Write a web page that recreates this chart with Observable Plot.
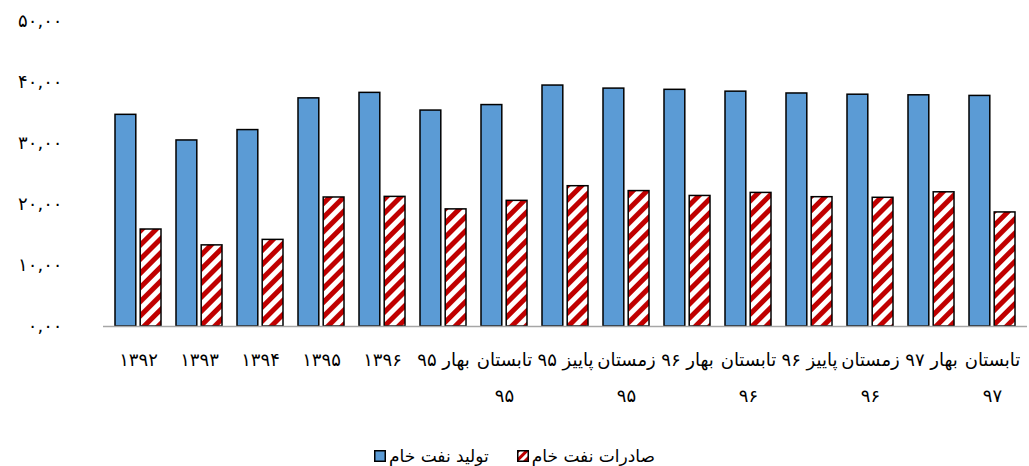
<!DOCTYPE html>
<html>
<head>
<meta charset="utf-8">
<script src="https://cdn.jsdelivr.net/npm/d3@7"></script>
<script src="https://cdn.jsdelivr.net/npm/@observablehq/plot@0.6"></script>
<style>
  html, body { margin: 0; padding: 0; background: #fff; }
  body { width: 1029px; height: 466px; overflow: hidden; font-family: "DejaVu Sans", sans-serif; }
  #legend { display: flex; justify-content: center; align-items: center; height: 22px; margin-top: 15px; font-size: 17px; color: #000; }
  .item { display: flex; align-items: center; }
  .item span { direction: rtl; }
  .sw { width: 12px; height: 12px; margin-right: 3px; }
</style>
</head>
<body>
<div id="chart"></div>
<div id="legend"></div>
<script>
// Categories (x axis)
const categories = ["۱۳۹۲","۱۳۹۳","۱۳۹۴","۱۳۹۵","۱۳۹۶","بهار ۹۵","تابستان ۹۵","پاییز ۹۵","زمستان ۹۵","بهار ۹۶","تابستان ۹۶","پاییز ۹۶","زمستان ۹۶","بهار ۹۷","تابستان ۹۷"];
// Category tick labels as displayed (wrapped)
const categoryLabels = ["۱۳۹۲","۱۳۹۳","۱۳۹۴","۱۳۹۵","۱۳۹۶","بهار ۹۵","تابستان\n۹۵","پاییز ۹۵","زمستان\n۹۵","بهار ۹۶","تابستان\n۹۶","پاییز ۹۶","زمستان\n۹۶","بهار ۹۷","تابستان\n۹۷"];
// Series
const seriesNames = ["تولید نفت خام", "صادرات نفت خام"];
const production = [34.7, 30.5, 32.2, 37.4, 38.3, 35.4, 36.3, 39.5, 39.0, 38.8, 38.5, 38.2, 38.0, 37.9, 37.8];
const exportsData = [15.9, 13.3, 14.2, 21.15, 21.25, 19.2, 20.6, 23.0, 22.2, 21.4, 21.9, 21.2, 21.1, 22.0, 18.7];
// Y ticks
const yTicks = [0, 10, 20, 30, 40, 50];
const yTickLabels = ["۰,۰۰","۱۰,۰۰","۲۰,۰۰","۳۰,۰۰","۴۰,۰۰","۵۰,۰۰"];

const rows = categories.map((c, i) => ({cat: c, production: production[i], exports: exportsData[i]}));

const chart = Plot.plot({
  width: 1029,
  height: 430,
  marginLeft: 103,
  marginRight: 2,
  marginTop: 21,
  marginBottom: 104,
  style: {fontFamily: "DejaVu Sans, sans-serif", fontSize: "16px", background: "white", color: "#000"},
  x: {domain: categories, paddingInner: 0.25, paddingOuter: 0.125, label: null},
  y: {domain: [0, 50], label: null},
  marks: [
    Plot.barY(rows, {x: "cat", y: "production", fill: "#5b9bd5", stroke: "#000", strokeWidth: 1.5, insetRight: 25.2}),
    Plot.barY(rows, {x: "cat", y: "exports", fill: "url(#hatch)", stroke: "#000", strokeWidth: 1.5, insetLeft: 25.2}),
    Plot.ruleY([0], {stroke: "#a6a6a6", strokeWidth: 1.5}),
    Plot.axisX({tickSize: 0, tickPadding: 15, lineHeight: 1.95, fontSize: 18,
      tickFormat: d => categoryLabels[categories.indexOf(d)]}),
    Plot.axisY({ticks: yTicks, tickSize: 0, tickPadding: 41, fontSize: 18,
      tickFormat: d => yTickLabels[yTicks.indexOf(d)]})
  ]
});

function addHatch(svgSel, id, size) {
  const defs = svgSel.insert("defs", ":first-child");
  const p = defs.append("pattern").attr("id", id).attr("patternUnits", "userSpaceOnUse")
    .attr("width", size).attr("height", size).attr("patternTransform", "rotate(45)");
  p.append("rect").attr("width", size).attr("height", size).attr("fill", "#fff");
  p.append("rect").attr("width", size / 2).attr("height", size).attr("fill", "#c00000");
}
addHatch(d3.select(chart), "hatch", 10);
// widen digit-only y tick labels a little
d3.select(chart).selectAll("[aria-label='y-axis tick label'] text").attr("letter-spacing", "2px");
document.getElementById("chart").appendChild(chart);

// Legend
const legend = d3.select("#legend");
const colors = ["#5b9bd5", "url(#hatch2)"];
seriesNames.forEach((name, i) => {
  const item = legend.append("div").attr("class", "item").style("margin-left", i ? "28px" : "0");
  const sw = item.append("svg").attr("class", "sw").attr("width", 12).attr("height", 12);
  if (i === 1) addHatch(sw, "hatch2", 6);
  sw.append("rect").attr("x", 0.75).attr("y", 0.75).attr("width", 10.5).attr("height", 10.5)
    .attr("fill", colors[i]).attr("stroke", "#000").attr("stroke-width", 1.5);
  item.append("span").text(name);
});
</script>
</body>
</html>
